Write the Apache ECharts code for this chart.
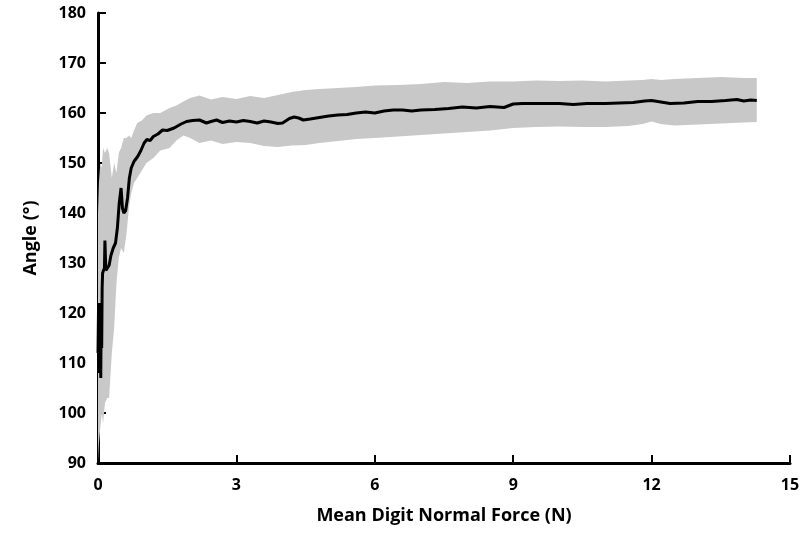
<!DOCTYPE html>
<html>
<head>
<meta charset="utf-8">
<script src="https://cdn.jsdelivr.net/npm/echarts@6/dist/echarts.min.js"></script>
<style>
  html, body { margin: 0; padding: 0; background: #fff; }
  #chart { width: 805px; height: 533px; }
</style>
</head>
<body>
<div id="chart"></div>
<script>
// mean angle curve (force N, angle deg)
const meanForce = [0.00, 0.01, 0.02, 0.03, 0.04, 0.05, 0.06, 0.07, 0.08, 0.09, 0.10, 0.12, 0.14, 0.15, 0.17, 0.20,
  0.24, 0.28, 0.33, 0.38, 0.42, 0.46, 0.50, 0.53, 0.56, 0.60, 0.64, 0.68, 0.72, 0.78, 0.86, 0.93, 1.00, 1.06,
  1.13, 1.20, 1.30, 1.40, 1.50, 1.65, 1.80, 1.92, 2.05, 2.20, 2.35, 2.45, 2.57, 2.70, 2.85, 3.00, 3.15, 3.30,
  3.45, 3.60, 3.75, 3.90, 4.00, 4.15, 4.25, 4.35, 4.45, 4.60, 4.80, 5.00, 5.20, 5.40, 5.60, 5.80, 6.00, 6.20,
  6.40, 6.60, 6.80, 7.00, 7.30, 7.60, 7.90, 8.20, 8.50, 8.80, 9.00, 9.20, 9.60, 10.00, 10.30, 10.60, 11.00,
  11.30, 11.60, 11.85, 12.00, 12.20, 12.40, 12.70, 13.00, 13.30, 13.60, 13.85, 14.00, 14.15, 14.28]
const meanAngle = [112, 120, 108, 122, 110, 118, 107, 121, 113, 125, 128, 128, 129, 134.5, 128.5, 128.3,
  129.5, 131.5, 133, 134, 137, 142, 145, 141, 140, 140.5, 143, 147, 149, 150.3, 151.3, 152.5, 154, 154.7,
  154.5, 155.3, 155.8, 156.6, 156.5, 157, 157.8, 158.3, 158.5, 158.6, 158, 158.3, 158.6, 158.1, 158.4, 158.2, 158.5, 158.3,
  158.0, 158.4, 158.2, 157.9, 158.0, 158.9, 159.2, 159.0, 158.6, 158.8, 159.1, 159.4, 159.6, 159.7, 160.0, 160.2, 160.0, 160.4,
  160.6, 160.6, 160.4, 160.6, 160.7, 160.9, 161.2, 161.0, 161.3, 161.1, 161.8, 161.9, 161.9, 161.9, 161.7, 161.9, 161.9,
  162.0, 162.1, 162.4, 162.5, 162.2, 161.9, 162.0, 162.3, 162.3, 162.5, 162.7, 162.4, 162.6, 162.5]

// shaded spread band
const bandForce = [0.00, 0.02, 0.05, 0.08, 0.11, 0.15, 0.20, 0.24, 0.30, 0.35, 0.40, 0.45, 0.50, 0.56, 0.62, 0.67,
  0.72, 0.78, 0.85, 0.95, 1.05, 1.20, 1.35, 1.55, 1.70, 1.85, 2.00, 2.20, 2.45, 2.70, 3.00, 3.30, 3.60, 3.90,
  4.20, 4.50, 4.80, 5.20, 5.60, 6.00, 6.50, 7.00, 7.50, 8.00, 8.50, 9.00, 9.50, 10.00, 10.50, 11.00, 11.50,
  11.80, 12.00, 12.20, 12.50, 13.00, 13.50, 14.00, 14.28]
const bandLow = [90.5, 94, 97, 100, 98, 102, 103, 103, 112, 117, 126, 131, 133, 132, 136, 141,
  144, 146, 147, 148.5, 150, 151, 152.5, 153, 154.5, 155.5, 155, 154, 154.5, 153.8, 154.2, 154.0, 153.4, 153.2,
  153.5, 153.6, 154.0, 154.4, 154.8, 155.0, 155.3, 155.6, 155.9, 156.2, 156.5, 157.0, 157.2, 157.3, 157.2, 157.2, 157.4,
  157.8, 158.3, 157.8, 157.5, 157.7, 157.9, 158.1, 158.2]
const bandHigh = [140, 146, 150, 149, 153, 152, 153, 152, 147, 150, 148, 152, 153, 155, 155, 155.5,
  155, 156.5, 158, 158.5, 159.5, 160, 160, 161, 161.5, 162.3, 163, 163.5, 162.7, 163.2, 162.8, 163.4, 163.0, 163.6,
  164.2, 164.6, 164.8, 165.0, 165.2, 165.5, 165.6, 165.8, 166.2, 166.0, 166.3, 166.3, 166.5, 166.4, 166.5, 166.3, 166.5,
  166.6, 166.8, 166.6, 166.8, 167.0, 167.2, 167.0, 167.0]

const xTicks = [0, 3, 6, 9, 12, 15]
const yTicks = [90, 100, 110, 120, 130, 140, 150, 160, 170, 180]

const font = 'Open Sans'
const chart = echarts.init(document.getElementById('chart'))

const axisCommon = {
  axisLine: { lineStyle: { color: '#000', width: 3 } },
  axisTick: { inside: true, length: 8, lineStyle: { color: '#000', width: 2 } },
  splitLine: { show: false },
  axisLabel: { color: '#000', fontFamily: font, fontWeight: 'bold', fontSize: 16 },
  nameTextStyle: { color: '#000', fontFamily: font, fontWeight: 'bold', fontSize: 18 },
  nameLocation: 'middle'
}

// band drawn as one polygon: upper edge forward, lower edge back
const renderBand = (params, api) => {
  if (params.dataIndex !== 0) return
  const upper = bandForce.map((x, i) => api.coord([x, bandHigh[i]]))
  const lower = bandForce.map((x, i) => api.coord([x, bandLow[i]])).reverse()
  return {
    type: 'polygon',
    shape: { points: upper.concat(lower) },
    style: { fill: '#c8c8c8' },
    silent: true
  }
}

chart.setOption({
  animation: false,
  grid: { left: 98, right: 15, top: 13, bottom: 70 },
  xAxis: {
    ...axisCommon,
    type: 'value',
    min: xTicks[0],
    max: xTicks[xTicks.length - 1],
    interval: 3,
    name: 'Mean Digit Normal Force (N)',
    nameGap: 44,
    axisLabel: { ...axisCommon.axisLabel, margin: 14 }
  },
  yAxis: {
    ...axisCommon,
    type: 'value',
    min: yTicks[0],
    max: yTicks[yTicks.length - 1],
    interval: 10,
    name: 'Angle (°)',
    nameGap: 58,
    axisLabel: { ...axisCommon.axisLabel, margin: 12 }
  },
  series: [
    {
      type: 'custom',
      renderItem: renderBand,
      data: bandForce.map((x, i) => [x, bandLow[i], bandHigh[i]]),
      encode: { x: 0, y: [1, 2] },
      z: 1
    },
    {
      type: 'line',
      data: meanForce.map((x, i) => [x, meanAngle[i]]),
      symbol: 'none',
      lineStyle: { color: '#000', width: 3 },
      z: 3
    }
  ]
})
</script>
</body>
</html>
